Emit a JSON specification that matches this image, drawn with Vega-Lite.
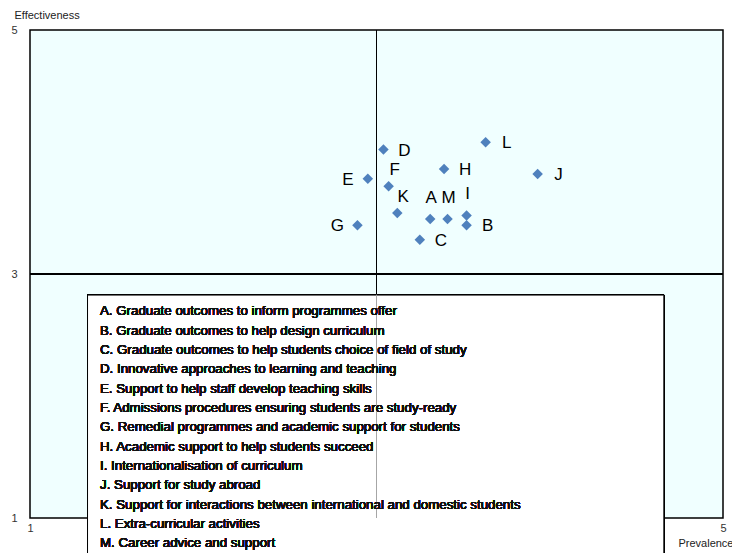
{
  "$schema": "https://vega.github.io/schema/vega-lite/v6.json",
  "width": 693,
  "height": 488,
  "autosize": {"type": "none"},
  "padding": {"left": 30, "top": 30, "right": 9, "bottom": 35},
  "config": {
    "font": "Liberation Sans",
    "view": {"fill": "#F0FFFF", "stroke": "#000000", "strokeWidth": 1.5},
    "axisX": {"domain": false, "ticks": false, "grid": false, "labelFontSize": 11, "labelPadding": 4, "labelFlush": false, "labelOverlap": false, "titleFontSize": 11, "titleFontWeight": "normal", "titleColor": "#222222", "titleX": 703, "titleY": 25, "titleAlign": "right", "titleBaseline": "middle"},
    "axisY": {"domain": false, "ticks": false, "grid": false, "labelFontSize": 11, "labelColor": "#333333", "labelPadding": 13, "labelFlush": false, "labelOverlap": false, "titleFontSize": 11, "titleFontWeight": "normal", "titleColor": "#222222", "titleAngle": 0, "titleX": -16, "titleY": -15, "titleAlign": "left", "titleBaseline": "middle"}
  },
  "data": {"values": [
    {"label": "A", "prevalence": 3.31, "effectiveness": 3.45},
    {"label": "B", "prevalence": 3.52, "effectiveness": 3.40},
    {"label": "C", "prevalence": 3.25, "effectiveness": 3.28},
    {"label": "D", "prevalence": 3.04, "effectiveness": 4.02},
    {"label": "E", "prevalence": 2.95, "effectiveness": 3.78},
    {"label": "F", "prevalence": 3.07, "effectiveness": 3.72},
    {"label": "G", "prevalence": 2.89, "effectiveness": 3.40},
    {"label": "H", "prevalence": 3.39, "effectiveness": 3.86},
    {"label": "I", "prevalence": 3.52, "effectiveness": 3.48},
    {"label": "J", "prevalence": 3.93, "effectiveness": 3.82},
    {"label": "K", "prevalence": 3.12, "effectiveness": 3.50},
    {"label": "L", "prevalence": 3.63, "effectiveness": 4.08},
    {"label": "M", "prevalence": 3.41, "effectiveness": 3.45}
  ]},
  "layer": [
    {
      "mark": {"type": "rect", "fill": "#FFFFFF", "fillOpacity": 0.7, "stroke": "#000000", "strokeWidth": 1},
      "encoding": {
        "x": {"datum": 1.332, "type": "quantitative", "title": "Prevalence", "axis": {"values": [1, 3, 5], "format": "d", "labelColor": {"condition": {"test": "datum.value == 3", "value": "#AAAAAA"}, "value": "#333333"}}, "scale": {"domain": [1, 5], "nice": false, "zero": false}},
        "x2": {"datum": 4.659},
        "y": {"datum": 2.828, "type": "quantitative", "title": "Effectiveness", "axis": {"values": [1, 3, 5], "format": "d"}, "scale": {"domain": [1, 5], "nice": false, "zero": false}},
        "y2": {"datum": 0}
      }
    },
    {
      "mark": {"type": "rule", "color": "#000000", "strokeWidth": 1},
      "encoding": {
        "x": {"datum": 3, "type": "quantitative", "title": "Prevalence", "axis": {"values": [1, 3, 5], "format": "d", "labelColor": {"condition": {"test": "datum.value == 3", "value": "#AAAAAA"}, "value": "#333333"}}, "scale": {"domain": [1, 5], "nice": false, "zero": false}},
        "y": {"datum": 5, "type": "quantitative", "title": "Effectiveness", "axis": {"values": [1, 3, 5], "format": "d"}, "scale": {"domain": [1, 5], "nice": false, "zero": false}},
        "y2": {"datum": 2.828}
      }
    },
    {
      "mark": {"type": "rule", "color": "#A6A6A6", "strokeWidth": 1},
      "encoding": {
        "x": {"datum": 3, "type": "quantitative", "title": "Prevalence", "axis": {"values": [1, 3, 5], "format": "d", "labelColor": {"condition": {"test": "datum.value == 3", "value": "#AAAAAA"}, "value": "#333333"}}, "scale": {"domain": [1, 5], "nice": false, "zero": false}},
        "y": {"datum": 2.828, "type": "quantitative", "title": "Effectiveness", "axis": {"values": [1, 3, 5], "format": "d"}, "scale": {"domain": [1, 5], "nice": false, "zero": false}},
        "y2": {"datum": 1}
      }
    },
    {
      "mark": {"type": "rule", "color": "#000000", "strokeWidth": 1},
      "encoding": {
        "y": {"datum": 3, "type": "quantitative", "title": "Effectiveness", "axis": {"values": [1, 3, 5], "format": "d"}, "scale": {"domain": [1, 5], "nice": false, "zero": false}}
      }
    },
    {
      "mark": {"type": "point", "shape": "diamond", "filled": true, "color": "#4F81BD", "size": 110, "opacity": 1},
      "encoding": {
        "x": {"field": "prevalence", "type": "quantitative", "title": "Prevalence", "axis": {"values": [1, 3, 5], "format": "d", "labelColor": {"condition": {"test": "datum.value == 3", "value": "#AAAAAA"}, "value": "#333333"}}, "scale": {"domain": [1, 5], "nice": false, "zero": false}},
        "y": {"field": "effectiveness", "type": "quantitative", "title": "Effectiveness", "axis": {"values": [1, 3, 5], "format": "d"}, "scale": {"domain": [1, 5], "nice": false, "zero": false}}
      }
    },
    {
      "transform": [{"filter": {"field": "label", "oneOf": ["D", "L", "H", "J", "B", "C"]}}],
      "mark": {"type": "text", "fontSize": 17, "color": "#000000", "align": "center", "baseline": "middle", "dx": 21, "dy": 1},
      "encoding": {
        "x": {"field": "prevalence", "type": "quantitative", "title": "Prevalence", "axis": {"values": [1, 3, 5], "format": "d", "labelColor": {"condition": {"test": "datum.value == 3", "value": "#AAAAAA"}, "value": "#333333"}}, "scale": {"domain": [1, 5], "nice": false, "zero": false}},
        "y": {"field": "effectiveness", "type": "quantitative", "title": "Effectiveness", "axis": {"values": [1, 3, 5], "format": "d"}, "scale": {"domain": [1, 5], "nice": false, "zero": false}},
        "text": {"field": "label"}
      }
    },
    {
      "transform": [{"filter": {"field": "label", "oneOf": ["E", "G"]}}],
      "mark": {"type": "text", "fontSize": 17, "color": "#000000", "align": "center", "baseline": "middle", "dx": -20, "dy": 1},
      "encoding": {
        "x": {"field": "prevalence", "type": "quantitative", "title": "Prevalence", "axis": {"values": [1, 3, 5], "format": "d", "labelColor": {"condition": {"test": "datum.value == 3", "value": "#AAAAAA"}, "value": "#333333"}}, "scale": {"domain": [1, 5], "nice": false, "zero": false}},
        "y": {"field": "effectiveness", "type": "quantitative", "title": "Effectiveness", "axis": {"values": [1, 3, 5], "format": "d"}, "scale": {"domain": [1, 5], "nice": false, "zero": false}},
        "text": {"field": "label"}
      }
    },
    {
      "transform": [{"filter": {"field": "label", "oneOf": ["A", "M", "I"]}}],
      "mark": {"type": "text", "fontSize": 17, "color": "#000000", "align": "center", "baseline": "middle", "dx": 1, "dy": -21},
      "encoding": {
        "x": {"field": "prevalence", "type": "quantitative", "title": "Prevalence", "axis": {"values": [1, 3, 5], "format": "d", "labelColor": {"condition": {"test": "datum.value == 3", "value": "#AAAAAA"}, "value": "#333333"}}, "scale": {"domain": [1, 5], "nice": false, "zero": false}},
        "y": {"field": "effectiveness", "type": "quantitative", "title": "Effectiveness", "axis": {"values": [1, 3, 5], "format": "d"}, "scale": {"domain": [1, 5], "nice": false, "zero": false}},
        "text": {"field": "label"}
      }
    },
    {
      "transform": [{"filter": {"field": "label", "oneOf": ["F", "K"]}}],
      "mark": {"type": "text", "fontSize": 17, "color": "#000000", "align": "center", "baseline": "middle", "dx": 6, "dy": -16},
      "encoding": {
        "x": {"field": "prevalence", "type": "quantitative", "title": "Prevalence", "axis": {"values": [1, 3, 5], "format": "d", "labelColor": {"condition": {"test": "datum.value == 3", "value": "#AAAAAA"}, "value": "#333333"}}, "scale": {"domain": [1, 5], "nice": false, "zero": false}},
        "y": {"field": "effectiveness", "type": "quantitative", "title": "Effectiveness", "axis": {"values": [1, 3, 5], "format": "d"}, "scale": {"domain": [1, 5], "nice": false, "zero": false}},
        "text": {"field": "label"}
      }
    },
    {
      "mark": {
        "type": "text",
        "font": "Liberation Sans",
        "fontSize": 13.3,
        "fontWeight": "normal",
        "lineHeight": 19.35,
        "color": "#111111",
        "align": "left",
        "baseline": "top",
        "text": [
          "A. Graduate outcomes to inform programmes offer",
          "B. Graduate outcomes to help design curriculum",
          "C. Graduate outcomes to help students choice of field of study",
          "D. Innovative approaches to learning and teaching",
          "E. Support to help staff develop teaching skills",
          "F. Admissions procedures ensuring students are study-ready",
          "G. Remedial programmes and academic support for students",
          "H. Academic support to help students succeed",
          "I. Internationalisation of curriculum",
          "J. Support for study abroad",
          "K. Support for interactions between international and domestic students",
          "L. Extra-curricular activities",
          "M. Career advice and support"
        ]
      },
      "encoding": {
        "x": {"datum": 1.404, "type": "quantitative", "title": "Prevalence", "axis": {"values": [1, 3, 5], "format": "d", "labelColor": {"condition": {"test": "datum.value == 3", "value": "#AAAAAA"}, "value": "#333333"}}, "scale": {"domain": [1, 5], "nice": false, "zero": false}},
        "y": {"datum": 2.752, "type": "quantitative", "title": "Effectiveness", "axis": {"values": [1, 3, 5], "format": "d"}, "scale": {"domain": [1, 5], "nice": false, "zero": false}}
      }
    }
  ]
}
